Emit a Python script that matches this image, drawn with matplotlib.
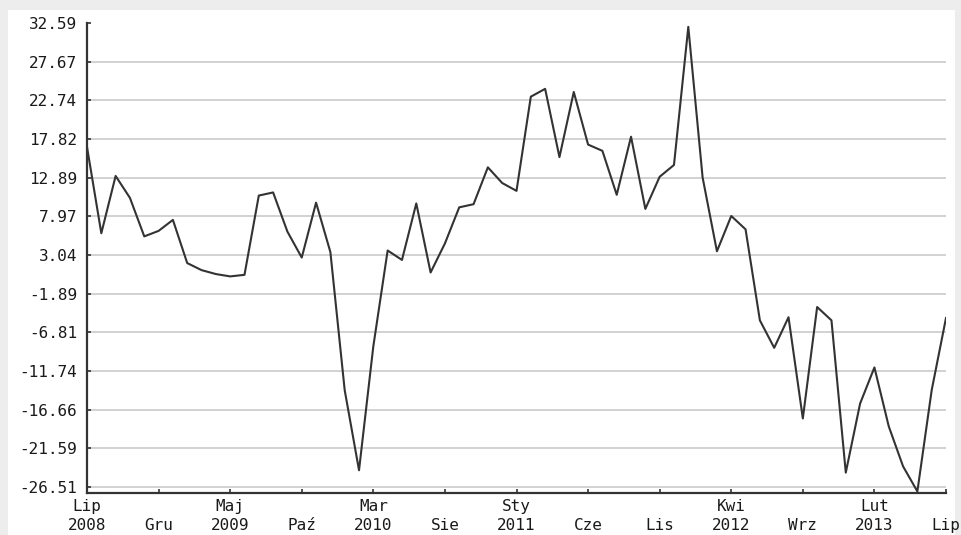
import matplotlib
matplotlib.use("Agg")
import matplotlib.pyplot as plt

# Monthly values, Lip 2008 .. Lip 2013
values = [16.8, 5.8, 13.1, 10.3, 5.4, 6.1, 7.5, 2.0, 1.1, 0.6, 0.3, 0.5,
          10.6, 11.0, 6.0, 2.7, 9.7, 3.4, -14.2, -24.4, -8.6, 3.6, 2.4, 9.6,
          0.8, 4.5, 9.1, 9.5, 14.2, 12.2, 11.2, 23.2, 24.2, 15.5, 23.8, 17.1,
          16.3, 10.7, 18.1, 8.9, 13.0, 14.5, 32.1, 12.9, 3.5, 8.0, 6.3, -5.3,
          -8.8, -4.9, -17.8, -3.6, -5.3, -24.7, -15.9, -11.3, -18.8, -23.9,
          -27.1, -14.2, -5.0]
months = list(range(len(values)))

y_ticks = [32.59, 27.67, 22.74, 17.82, 12.89, 7.97, 3.04, -1.89, -6.81,
           -11.74, -16.66, -21.59, -26.51]
x_tick_pos = list(range(0, 61, 5))
x_tick_labels = ["Lip\n2008", "\nGru", "Maj\n2009", "\nPa\u017a", "Mar\n2010",
                 "\nSie", "Sty\n2011", "\nCze", "\nLis", "Kwi\n2012", "\nWrz",
                 "Lut\n2013", "\nLip"]

W, H = 961, 535
fig = plt.figure(figsize=(W / 100, H / 100), dpi=100)
fig.patch.set_facecolor("#ededed")

bg = fig.add_axes([8 / W, 0, (W - 14) / W, (H - 10) / H])
bg.set_facecolor("white")
bg.set_xticks([])
bg.set_yticks([])
for s in bg.spines.values():
    s.set_visible(False)
bg.set_zorder(0)

ax = fig.add_axes([87 / W, 1 - 493 / H, (946 - 87) / W, (493 - 23) / H])
ax.set_zorder(1)
ax.patch.set_alpha(0)

for t in y_ticks[1:]:
    ax.axhline(t, color="#cfcfcf", lw=1.3, zorder=1)

ax.plot(months, values, color="#333333", lw=1.5, zorder=3)

ax.set_xlim(0, 60)
ax.set_ylim(-27.3, 32.59)
ax.set_yticks(y_ticks)
ax.set_yticklabels([f"{t:.2f}" for t in y_ticks])
ax.set_xticks(x_tick_pos)
ax.set_xticklabels(x_tick_labels, linespacing=1.35)

for s in ["top", "right"]:
    ax.spines[s].set_visible(False)
for s in ["left", "bottom"]:
    ax.spines[s].set_color("#333333")
    ax.spines[s].set_linewidth(1.6)

ax.tick_params(axis="both", direction="in", length=3, width=1.2,
               colors="#333333", labelcolor="#1a1a1a")
ax.tick_params(axis="y", pad=7)
ax.tick_params(axis="x", pad=4)
for lab in ax.get_xticklabels() + ax.get_yticklabels():
    lab.set_fontfamily("DejaVu Sans Mono")
    lab.set_fontsize(11.5)

fig.savefig("out.png", dpi=100, facecolor=fig.get_facecolor())
